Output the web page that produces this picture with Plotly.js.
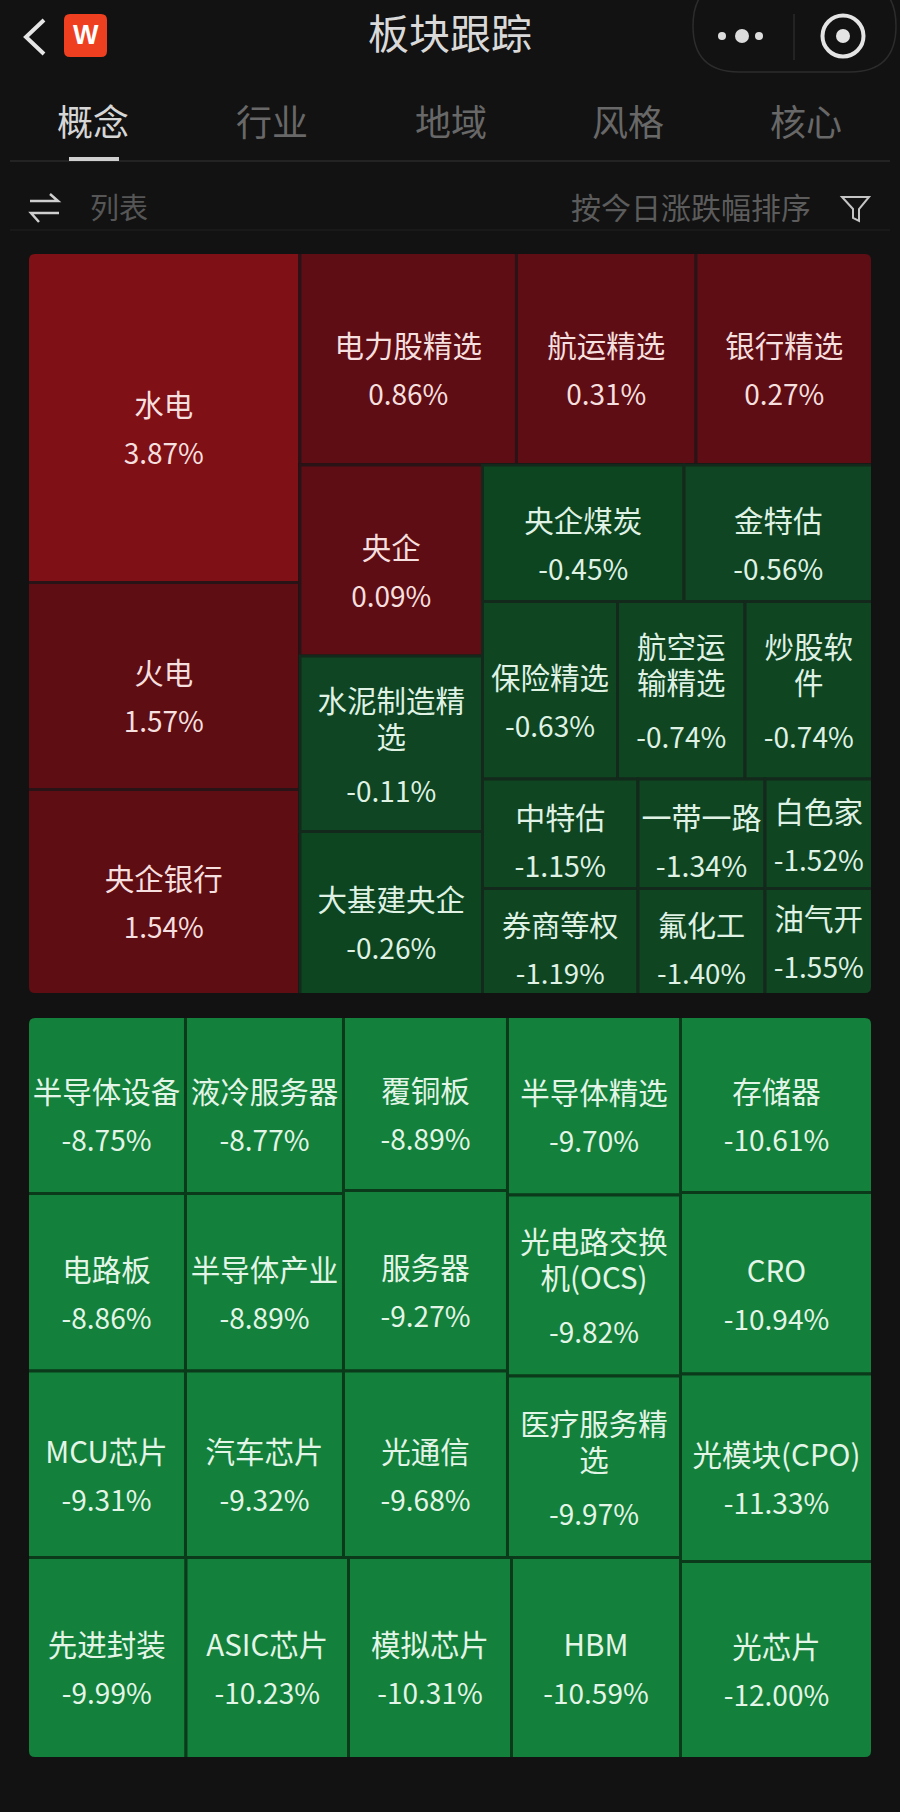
<!DOCTYPE html>
<html>
<head>
<meta charset="utf-8">
<script src="https://cdn.plot.ly/plotly-3.0.1.min.js"></script>
<style>html,body{margin:0;padding:0;background:#121212}#chart{width:900px;height:1812px}</style>
</head>
<body>
<div id="chart"></div>
<script>
// ---------- upper treemap ----------
const topGroups = ['gainers', 'rest', 'row1', 'row2', 'soeCol', 'right', 'r1', 'r2', 'r3', 'r4'];
const topGroupParents = ['', '', 'rest', 'rest', 'row2', 'row2', 'right', 'right', 'right', 'right'];
const topNames = ['水电', '火电', '央企银行', '电力股精选', '航运精选', '银行精选', '央企', '水泥制造精<br>选', '大基建央企',
  '央企煤炭', '金特估', '保险精选', '航空运<br>输精选', '炒股软<br>件', '中特估', '一带一路', '白色家', '券商等权', '氟化工', '油气开'];
const topChanges = ['3.87%', '1.57%', '1.54%', '0.86%', '0.31%', '0.27%', '0.09%', '-0.11%', '-0.26%',
  '-0.45%', '-0.56%', '-0.63%', '-0.74%', '-0.74%', '-1.15%', '-1.34%', '-1.52%', '-1.19%', '-1.40%', '-1.55%'];
const topAreas = [89925, 56408, 55863, 46006, 38144, 37506, 34858, 32029, 29748,
  27505, 25730, 23963, 22631, 22631, 17027, 13907, 11771, 16483, 13462, 11395];
const topParents = ['gainers', 'gainers', 'gainers', 'row1', 'row1', 'row1', 'soeCol', 'soeCol', 'soeCol',
  'r1', 'r1', 'r2', 'r2', 'r2', 'r3', 'r3', 'r3', 'r4', 'r4', 'r4'];
const topColors = ['#7f1016', '#5e0d13', '#5e0d13', '#5f0d14', '#5f0d14', '#5f0d14', '#5f0d14', '#0f4522', '#0e4521',
  '#0e4521', '#0f4522', '#104522', '#104522', '#104522', '#104522', '#104522', '#104522', '#104522', '#104522', '#104522'];

// ---------- lower treemap ----------
const lowGroups = ['left', 'col5', 'upper', 'row4', 'c1', 'c2', 'c3', 'c4'];
const lowGroupParents = ['', '', 'left', 'left', 'upper', 'upper', 'upper', 'upper'];
const lowNames = ['半导体设备', '电路板', 'MCU芯片', '液冷服务器', '半导体产业', '汽车芯片', '覆铜板', '服务器', '光通信',
  '半导体精选', '光电路交换<br>机(OCS)', '医疗服务精<br>选', '先进封装', 'ASIC芯片', '模拟芯片', 'HBM', '存储器', 'CRO', '光模块(CPO)', '光芯片'];
const lowChanges = ['-8.75%', '-8.86%', '-9.31%', '-8.77%', '-8.89%', '-9.32%', '-8.89%', '-9.27%', '-9.68%',
  '-9.70%', '-9.82%', '-9.97%', '-9.99%', '-10.23%', '-10.31%', '-10.59%', '-10.61%', '-10.94%', '-11.33%', '-12.00%'];
const lowAreas = [27966, 28045, 29467, 27966, 28045, 29467, 28536, 29602, 30586,
  30881, 31313, 31400, 31859, 32663, 32763, 33969, 33792, 34848, 36000, 37824];
const lowParents = ['c1', 'c1', 'c1', 'c2', 'c2', 'c2', 'c3', 'c3', 'c3',
  'c4', 'c4', 'c4', 'row4', 'row4', 'row4', 'row4', 'col5', 'col5', 'col5', 'col5'];
const lowColor = '#13803c';

// ---------- header text ----------
const pageTitle = '板块跟踪';
const tabs = ['概念', '行业', '地域', '风格', '核心'];
const tabCentres = [93, 272, 451, 628, 806];
const listLabel = '列表';
const sortLabel = '按今日涨跌幅排序';

const W = 900, H = 1812, BG = '#121212';
const FONT = '"Noto Sans CJK SC", "Noto Sans", sans-serif';
const px = x => x / W, py = y => 1 - y / H;
const UNIT = 6, F = UNIT / 1.3;
const NB = '\u00a0';
const flatLabels = ['白色家', '油气开'];
const shortCells = ['中特估', '一带一路', '券商等权', '氟化工'];

function label(name, chg) {
  const two = name.includes('<br>');
  const flat = flatLabels.includes(name), short = shortCells.includes(name);
  const lead = flat ? 0 : two ? 2 : short ? 7 : 8;
  const nameSize = short ? 30 : 29.5, chgSize = short ? 28.5 : 28;
  let s = '';
  if (lead) s += NB + '<br>'.repeat(lead);
  const parts = name.split('<br>');
  s += `<span style="font-size:${nameSize}px">${parts[0]}</span>`;
  if (two) s += '<br>'.repeat(6) + `<span style="font-size:${nameSize}px">${parts[1]}</span>`;
  s += '<br>'.repeat(two ? 9 : 8) + `<span style="font-size:${chgSize}px">${chg}</span>`;
  return s;
}

function tree(groups, gParents, names, changes, areas, parents, colors, txtColors, lineColors, y0, y1) {
  const ids = groups.concat(names.map((_, i) => 'n' + i));
  return {
    type: 'treemap',
    ids,
    labels: ids.map(() => ''),
    parents: gParents.concat(parents),
    values: groups.map(() => 0).concat(areas),
    text: groups.map(() => '').concat(names.map((n, i) => label(n, changes[i]))),
    textinfo: 'text',
    textposition: 'middle center',
    branchvalues: 'remainder',
    sort: false,
    hoverinfo: 'skip',
    tiling: {packing: 'slice-dice', pad: 0},
    pathbar: {visible: false},
    root: {color: BG},
    textfont: {family: FONT, size: F, color: groups.map(() => '#fff').concat(txtColors)},
    marker: {
      pad: {t: 0, l: 0, r: 0, b: 0},
      depthfade: false,
      colors: groups.map(() => BG).concat(colors),
      line: {width: 3, color: groups.map(() => BG).concat(lineColors)}
    },
    domain: {x: [27.5 / W, 872.5 / W], y: [py(y1), py(y0)]}
  };
}

const topTxt = topChanges.map(c => c[0] === '-' ? '#dff2e4' : '#f6dfdf');
const topLine = topChanges.map(c => c[0] === '-' ? '#13291b' : '#2a1316');
const traces = [
  tree(topGroups, topGroupParents, topNames, topChanges, topAreas, topParents, topColors, topTxt, topLine, 252.5, 994.5),
  tree(lowGroups, lowGroupParents, lowNames, lowChanges, lowAreas, lowParents, lowNames.map(() => lowColor), lowNames.map(() => '#e3f5e6'), lowNames.map(() => '#0b3a1b'), 1016.5, 1758.5)
];

function ann(text, x, y, size, color, extra) {
  return Object.assign({text, xref: 'paper', yref: 'paper', x: px(x), y: py(y), xanchor: 'center', yanchor: 'middle',
    showarrow: false, font: {family: FONT, size, color}}, extra || {});
}
const annotations = [
  ann(pageTitle, 450, 31.5, 41, '#d9d9d9'),
  ann(sortLabel, 691, 206, 30, '#5c5c5c'),
  ann(listLabel, 119, 206, 29, '#565656'),
  ann('<b>W</b>', 85.5, 35, 27, '#ffffff', {font: {family: '"Liberation Sans", sans-serif', size: 27, color: '#fff'}})
].concat(tabs.map((t, i) => ann(t, tabCentres[i], 120, 36, i === 0 ? '#d6d6d6' : '#686868')));

function P(pts, close) {
  return 'M' + pts.map(p => px(p[0]) + ',' + py(p[1])).join('L') + (close ? 'Z' : '');
}
function line(pts, color, width, close, fill) {
  return {type: 'path', xref: 'paper', yref: 'paper', path: P(pts, close), line: {color, width}, fillcolor: fill || 'rgba(0,0,0,0)'};
}
function rrect(x0, y0, x1, y1, r, stroke, w, fill) {
  const c = (x, y) => px(x) + ',' + py(y);
  return {type: 'path', xref: 'paper', yref: 'paper',
    path: `M${c(x0 + r, y0)}L${c(x1 - r, y0)}Q${c(x1, y0)} ${c(x1, y0 + r)}L${c(x1, y1 - r)}Q${c(x1, y1)} ${c(x1 - r, y1)}L${c(x0 + r, y1)}Q${c(x0, y1)} ${c(x0, y1 - r)}L${c(x0, y0 + r)}Q${c(x0, y0)} ${c(x0 + r, y0)}Z`,
    line: {color: stroke, width: w}, fillcolor: fill || 'rgba(0,0,0,0)'};
}
function circle(cx, cy, r, fill, stroke, w) {
  return {type: 'circle', xref: 'paper', yref: 'paper', x0: px(cx - r), x1: px(cx + r), y0: py(cy - r), y1: py(cy + r),
    fillcolor: fill, line: {color: stroke || fill, width: w === undefined ? 0 : w}};
}
function corner(x, y, sx, sy, r) {
  const c = (a, b) => px(a) + ',' + py(b);
  return {type: 'path', xref: 'paper', yref: 'paper',
    path: `M${c(x, y)}L${c(x + sx * r, y)}Q${c(x, y)} ${c(x, y + sy * r)}Z`, line: {width: 0}, fillcolor: BG};
}
const boxes = [[29, 254, 871, 993], [29, 1018, 871, 1757]];
const corners = [];
boxes.forEach(b => {
  corners.push(rrect(b[0] - 2, b[1] - 2, b[2] + 2, b[3] + 2, 0, BG, 4));
  corners.push(corner(b[0], b[1], 1, 1, 6), corner(b[2], b[1], -1, 1, 6), corner(b[0], b[3], 1, -1, 6), corner(b[2], b[3], -1, -1, 6));
});
const shapes = [
  line([[44, 20], [26, 37], [44, 54]], '#e6e6e6', 4),
  rrect(64, 14, 107, 57, 6, '#ee4020', 0, '#ee4020'),
  rrect(693, -20, 896, 72, 46, '#2c2c2c', 1.5),
  line([[794, 14], [794, 60]], '#2a2a2a', 1.5),
  circle(722, 36, 4, '#dcdcdc'), circle(742, 36, 7, '#dcdcdc'), circle(759, 36, 4, '#dcdcdc'),
  circle(843, 36, 20.5, 'rgba(0,0,0,0)', '#e4e4e4', 4), circle(843, 36, 7, '#e4e4e4'),
  line([[10, 161], [890, 161]], '#2a2a2a', 1.5),
  line([[69, 159], [119, 159]], '#cfcfcf', 4),
  line([[10, 230], [890, 230]], '#1d1d1d', 1.5),
  line([[30, 201], [58, 201], [50, 194]], '#cfcfcf', 2.5),
  line([[59, 213], [31, 213], [39, 222]], '#cfcfcf', 2.5),
  line([[842, 197], [869, 197], [859, 209], [859, 221], [853, 218], [853, 209]], '#c4c4c4', 2, true)
].concat(corners);

Plotly.newPlot('chart', traces, {
  width: W, height: H, margin: {l: 0, r: 0, t: 0, b: 0},
  paper_bgcolor: BG, plot_bgcolor: BG, showlegend: false,
  font: {family: FONT}, annotations, shapes
}, {displayModeBar: false, staticPlot: false});
</script>
</body>
</html>
